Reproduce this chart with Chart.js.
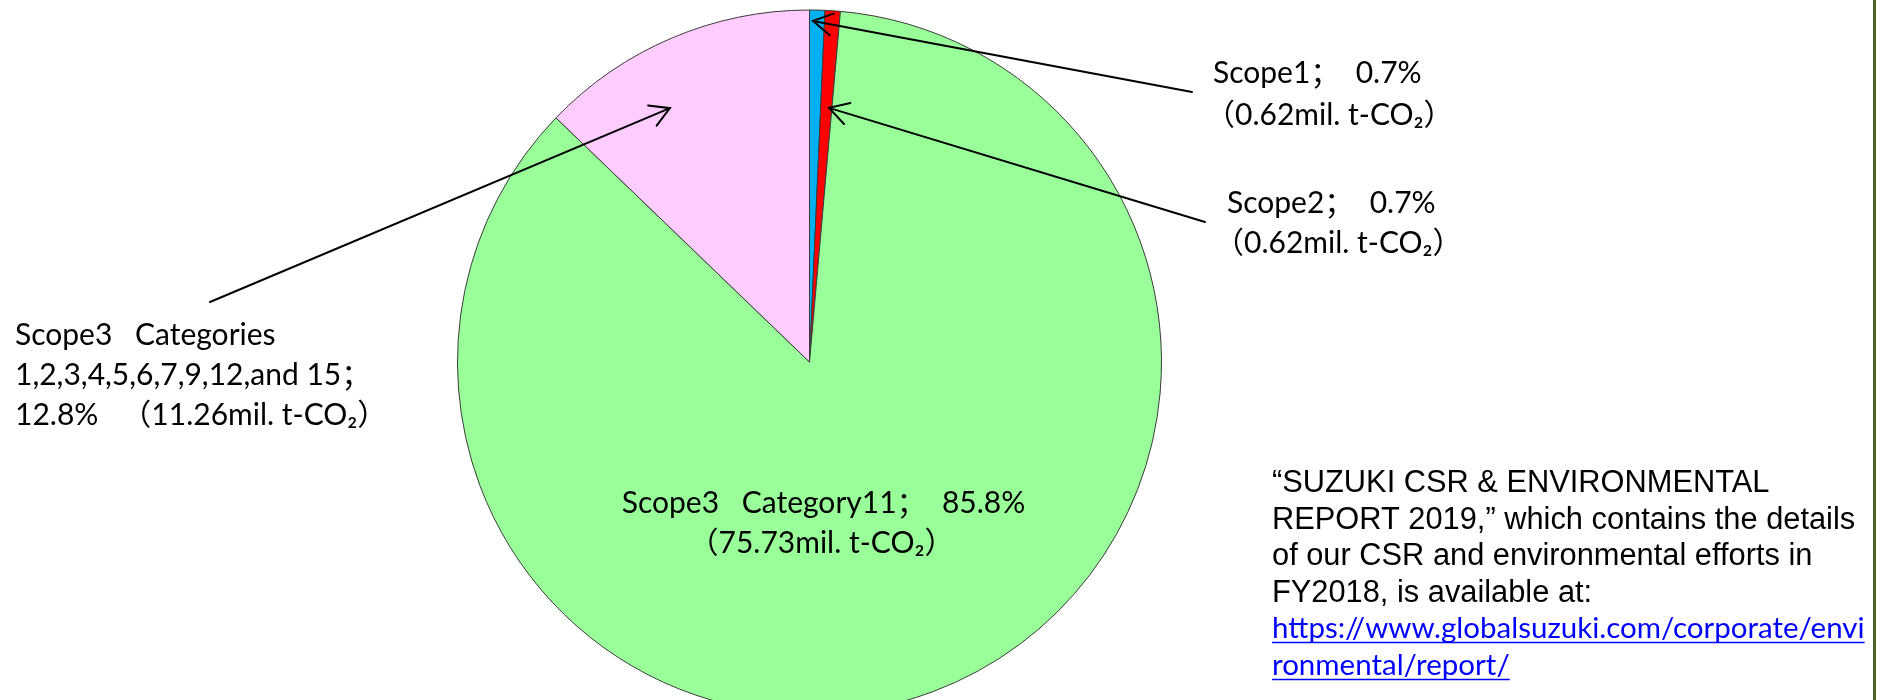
<!DOCTYPE html>
<html>
<head>
<meta charset="utf-8">
<script src="https://cdn.jsdelivr.net/npm/chart.js@4/dist/chart.umd.min.js"></script>
<style>
html,body{margin:0;padding:0;background:#fff;}
#wrap{position:relative;width:1880px;height:700px;overflow:hidden;}
</style>
</head>
<body>
<div id="wrap"><canvas id="c" width="1880" height="700"></canvas></div>
<script>
// ---- data ----
const categories = ['Scope1', 'Scope2', 'Scope3\u2002 Category11', 'Scope3\u2002 Categories'];
const categoryDetail = ['', '', '', '1,2,3,4,5,6,7,9,12,and 15'];
const shares = [0.7, 0.7, 85.8, 12.8];                // %
const emissions = ['0.62', '0.62', '75.73', '11.26']; // mil. t-CO2
const sliceColors = ['#00b0f0', '#ff0000', '#99ff99', '#ffccff'];
const noteLines = [
  '\u201CSUZUKI CSR & ENVIRONMENTAL',
  'REPORT 2019,\u201D which contains the details',
  'of our CSR and environmental efforts in',
  'FY2018, is available at:'
];
const linkLines = [
  'https://www.globalsuzuki.com/corporate/envi',
  'ronmental/report/'
];

const LABEL_FONT = '30px Lato, "Noto Sans CJK SC", sans-serif';
const NOTE_FONT = '30.8px "Liberation Sans", Arial, sans-serif';
const LINK_FONT = '29.5px Lato, sans-serif';

function amountText(i){ return '\uFF08' + emissions[i] + 'mil. t-CO\u2082\uFF09'; }
function shareText(i){ return categories[i] + '\uFF1B  ' + shares[i] + '%'; }

function arrow(ctx, x1, y1, x2, y2){
  ctx.beginPath();
  ctx.moveTo(x1, y1);
  ctx.lineTo(x2, y2);
  ctx.stroke();
  const a = Math.atan2(y1 - y2, x1 - x2);
  const L = 22, s = Math.PI / 6;
  ctx.beginPath();
  ctx.moveTo(x2 + L * Math.cos(a + s), y2 + L * Math.sin(a + s));
  ctx.lineTo(x2, y2);
  ctx.lineTo(x2 + L * Math.cos(a - s), y2 + L * Math.sin(a - s));
  ctx.stroke();
}

const annotations = {
  id: 'annotations',
  afterDraw(chart){
    const ctx = chart.ctx;
    const arcs = chart.getDatasetMeta(0).data;
    const cx = arcs[0].x, cy = arcs[0].y, R = arcs[0].outerRadius;
    ctx.save();
    // arrows pointing at slices (f: position along slice angle, rf: fraction of radius)
    const arrowDefs = [
      {i: 0, f: 0.233, rf: 0.969, from: [1192, 92]},
      {i: 1, f: 0.742, rf: 0.724, from: [1205, 222]},
      {i: 3, f: 0.375, rf: 0.823, from: [210, 302]}
    ];
    ctx.strokeStyle = '#000';
    ctx.lineWidth = 2;
    ctx.lineCap = 'round';
    arrowDefs.forEach(d => {
      const arc = arcs[d.i];
      const ang = arc.startAngle + d.f * (arc.endAngle - arc.startAngle);
      const tx = cx + R * d.rf * Math.cos(ang);
      const ty = cy + R * d.rf * Math.sin(ang);
      arrow(ctx, d.from[0], d.from[1], tx, ty);
    });

    // slice labels
    ctx.fillStyle = '#000';
    ctx.font = LABEL_FONT;
    ctx.textBaseline = 'alphabetic';
    ctx.textAlign = 'left';
    ctx.fillText(shareText(0), 1213, 83);
    ctx.fillText(amountText(0), 1205, 125);
    ctx.fillText(shareText(1), 1227, 213);
    ctx.fillText(amountText(1), 1214, 253);
    ctx.fillText(categories[3], 15, 345);
    ctx.fillText(categoryDetail[3] + '\uFF1B', 15, 385);
    ctx.fillText(shares[3] + '%   ' + amountText(3), 15, 425);
    ctx.textAlign = 'center';
    ctx.fillText(shareText(2), cx + 14, cy + 151);
    ctx.fillText(amountText(2), cx + 12, cy + 191);

    // note
    ctx.textAlign = 'left';
    ctx.font = NOTE_FONT;
    noteLines.forEach((t, k) => ctx.fillText(t, 1272, 492 + k * 36.5));
    ctx.font = LINK_FONT;
    ctx.fillStyle = '#0000ff';
    ctx.strokeStyle = '#0000ff';
    ctx.lineWidth = 1.5;
    ctx.lineCap = 'butt';
    linkLines.forEach((t, k) => {
      const y = 638 + k * 37;
      ctx.fillText(t, 1272, y);
      const w = ctx.measureText(t).width;
      ctx.beginPath();
      ctx.moveTo(1272, y + 4.5);
      ctx.lineTo(1272 + w, y + 4.5);
      ctx.stroke();
    });

    // right frame line
    ctx.fillStyle = '#4f6228';
    ctx.fillRect(1873, 0, 3, 700);
    ctx.restore();
  }
};

new Chart(document.getElementById('c'), {
  type: 'pie',
  data: {
    labels: categories,
    datasets: [{
      data: shares,
      backgroundColor: sliceColors,
      borderColor: '#3a3a3a',
      borderWidth: 1
    }]
  },
  options: {
    responsive: false,
    animation: false,
    radius: 352,
    layout: {padding: {top: 24, bottom: 0, left: 0, right: 261}},
    plugins: {legend: {display: false}, tooltip: {enabled: false}}
  },
  plugins: [annotations]
});
</script>
</body>
</html>
